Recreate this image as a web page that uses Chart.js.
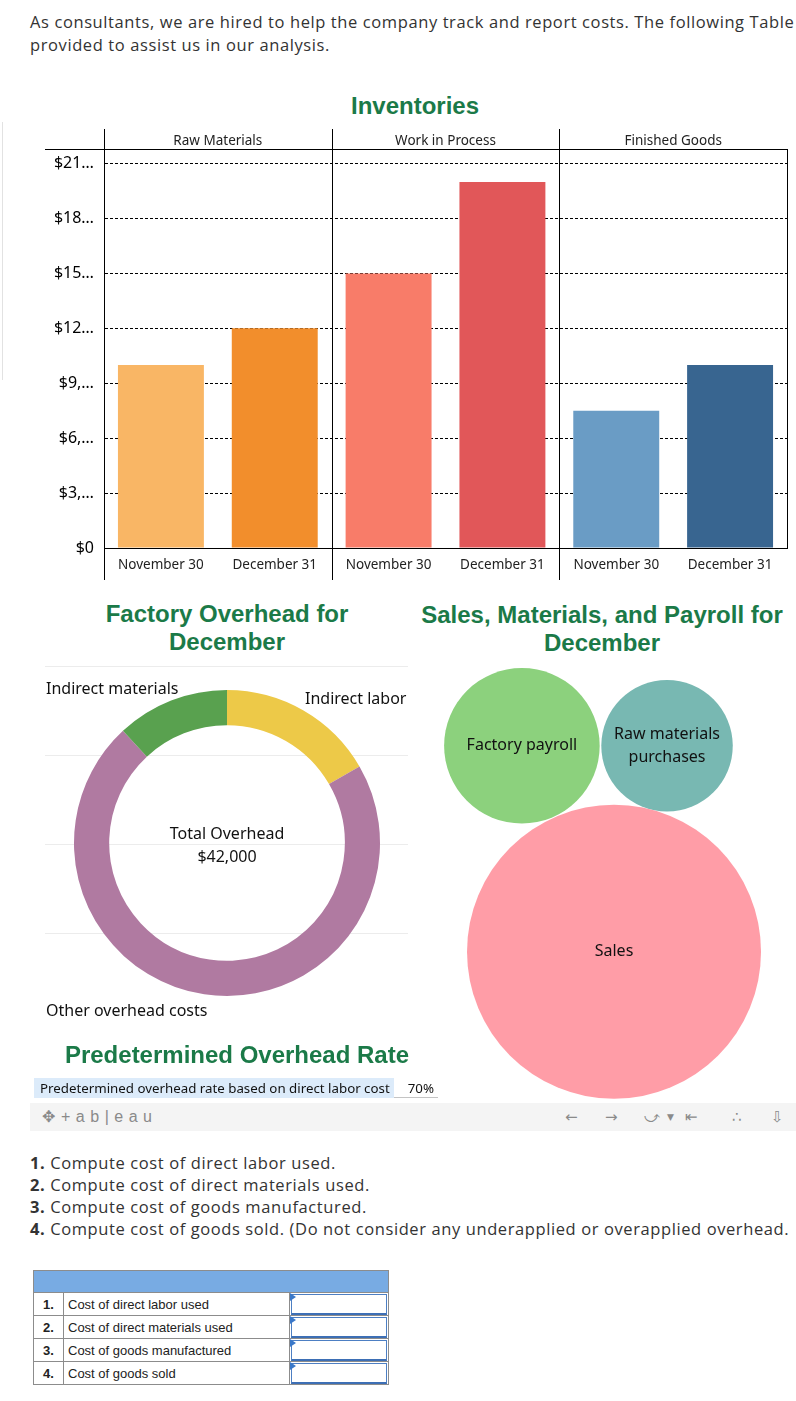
<!DOCTYPE html>
<html>
<head>
<meta charset="utf-8">
<script src="https://cdn.jsdelivr.net/npm/chart.js@4.4.0/dist/chart.umd.min.js"></script>
<style>
  body { margin: 0; width: 796px; height: 1401px; position: relative; overflow: hidden; background: #fff; color: #333; font-family: "Open Sans", sans-serif; }
  .abs { position: absolute; }
  .intro { left: 30px; top: 10px; font-size: 16.5px; line-height: 23px; white-space: nowrap; letter-spacing: 0.6px; }
  .title { font-family: "Liberation Sans", Arial, sans-serif; font-weight: bold; font-size: 24px; line-height: 28px; color: #1b7a48; text-align: center; }
  .tb { font-family: "Noto Sans", sans-serif; color: #111; font-size: 16px; line-height: 20px; white-space: nowrap; }
  .pane-rule { left: 45px; width: 363px; height: 0; border-top: 1px solid #ececec; }
  .rate-row { left: 34px; top: 1078px; width: 360px; height: 20px; background: #dcebfa; font-family: "Noto Sans", sans-serif; font-size: 13.3px; line-height: 20px; color: #111; padding-left: 6px; box-sizing: border-box; white-space: nowrap; }
  .rate-val { left: 394px; top: 1078px; width: 44px; height: 20px; border-bottom: 1px solid #c4c4c4; font-family: "Noto Sans", sans-serif; font-size: 13.3px; line-height: 20px; color: #111; text-align: right; padding-right: 4px; box-sizing: border-box; }
  .toolbar { left: 30px; top: 1103px; width: 766px; height: 28px; background: #f4f4f4; color: #8a8a8a; font-family: "DejaVu Sans", sans-serif; }
  .toolbar span { position: absolute; top: 4px; font-size: 15px; line-height: 20px; }
  .questions { left: 30px; top: 1152px; font-size: 16.5px; line-height: 22px; white-space: nowrap; letter-spacing: 0.6px; }
  table.ans { position: absolute; left: 33px; top: 1270px; border-collapse: collapse; font-family: "Liberation Sans", Arial, sans-serif; font-size: 13px; color: #222; }
  table.ans td { border: 1px solid #8c8c8c; height: 22px; padding: 0; }
  table.ans td.hd { background: #78abe3; height: 21px; }
  table.ans td.n { width: 29px; text-align: center; font-weight: bold; }
  table.ans td.l { width: 221px; padding-left: 4px; }
  table.ans td.in { width: 98px; position: relative; }
  .box { position: absolute; left: 1px; top: 1px; right: 1px; bottom: 0; border: 1px solid #4d7fc3; border-bottom: 2px solid #3d6fb5; }
  .flag { position: absolute; left: 0; top: 0; width: 0; height: 0; border-top: 4px solid transparent; border-bottom: 4px solid transparent; border-left: 6px solid #3a78c9; }
</style>
</head>
<body>

<div class="abs intro">As consultants, we are hired to help the company track and report costs. The following Table<br>provided to assist us in our analysis.</div>

<div class="abs" style="left:0;top:122px;width:2px;height:258px;border-right:1px solid #e2e2e2;"></div>

<div class="abs title" style="left:215px;top:92px;width:400px;">Inventories</div>
<canvas id="inventoryChart" class="abs" style="left:0;top:125px;" width="796" height="460"></canvas>

<div class="abs title" style="left:27px;top:600px;width:400px;">Factory Overhead for<br>December</div>
<div class="abs title" style="left:402px;top:601px;width:400px;">Sales, Materials, and Payroll for<br>December</div>

<div class="abs pane-rule" style="top:666px;"></div>
<div class="abs pane-rule" style="top:755px;"></div>
<div class="abs pane-rule" style="top:844px;"></div>
<div class="abs pane-rule" style="top:933px;"></div>
<canvas id="overheadChart" class="abs" style="left:45px;top:660px;" width="363" height="370"></canvas>
<div class="abs tb" style="left:46px;top:678px;">Indirect materials</div>
<div class="abs tb" style="left:305px;top:688px;">Indirect labor</div>
<div class="abs tb" style="left:46px;top:1000px;">Other overhead costs</div>
<div id="overheadTotal" class="abs tb" style="left:127px;top:822px;width:200px;text-align:center;line-height:23px;"></div>

<canvas id="bubbleChart" class="abs" style="left:420px;top:660px;" width="376" height="440"></canvas>

<div class="abs title" style="left:37px;top:1041px;width:400px;">Predetermined Overhead Rate</div>
<div class="abs rate-row">Predetermined overhead rate based on direct labor cost</div>
<div class="abs rate-val" id="rateVal"></div>

<div class="abs toolbar">
  <span style="left:12px;font-size:16px;">✥</span>
  <span style="left:31px;font-family:'Liberation Sans',sans-serif;font-size:16px;letter-spacing:5.5px;">+ab|eau</span>
  <span style="left:535px;">←</span>
  <span style="left:575px;">→</span>
  <span style="left:614px;">⤻</span>
  <span style="left:637px;font-size:9px;">▼</span>
  <span style="left:655px;">⇤</span>
  <span style="left:702px;">∴</span>
  <span style="left:741px;">⇩</span>
</div>

<div class="abs questions">
  <b>1.</b> Compute cost of direct labor used.<br>
  <b>2.</b> Compute cost of direct materials used.<br>
  <b>3.</b> Compute cost of goods manufactured.<br>
  <b>4.</b> Compute cost of goods sold. (Do not consider any underapplied or overapplied overhead.
</div>

<table class="ans">
  <tr><td colspan="3" class="hd"></td></tr>
  <tr><td class="n">1.</td><td class="l">Cost of direct labor used</td><td class="in"><div class="box"></div><div class="flag"></div></td></tr>
  <tr><td class="n">2.</td><td class="l">Cost of direct materials used</td><td class="in"><div class="box"></div><div class="flag"></div></td></tr>
  <tr><td class="n">3.</td><td class="l">Cost of goods manufactured</td><td class="in"><div class="box"></div><div class="flag"></div></td></tr>
  <tr><td class="n">4.</td><td class="l">Cost of goods sold</td><td class="in"><div class="box"></div><div class="flag"></div></td></tr>
</table>

<script>
// inventories (three panels, two dates each)
var inventoryGroups = ['Raw Materials', 'Work in Process', 'Finished Goods'];
var inventoryDates = ['November 30', 'December 31', 'November 30', 'December 31', 'November 30', 'December 31'];
var inventoryValues = [10000, 12000, 15000, 20000, 7500, 10000];
var inventoryColors = ['#F9B665', '#F28E2C', '#F87C69', '#E15759', '#6A9CC5', '#386590'];
var yTickValues = [0, 3000, 6000, 9000, 12000, 15000, 18000, 21000];
var inventoryMax = 21800;

// factory overhead for December
var overheadLabels = ['Indirect labor', 'Other overhead costs', 'Indirect materials'];
var overheadValues = [7000, 30000, 5000];
var overheadColors = ['#EDC948', '#B07AA1', '#59A14F'];

// sales, materials and payroll (packed bubbles, position in layout units 0-100)
var bubbleLabels = [['Factory payroll'], ['Raw materials', 'purchases'], ['Sales']];
var bubbleValues = [49000, 35000, 175000];
var bubbleX = [27.1, 65.7, 51.6];
var bubbleY = [19.5, 19.5, 66.3];
var bubbleColors = ['#8CD17D', '#78B8B2', '#FF9DA7'];

var overheadRate = 0.70;

function money(v) {
  return '$' + v.toLocaleString('en-US');
}

document.addEventListener('DOMContentLoaded', function() {
  var labelFont = 'Noto Sans';

  // vertical panel separators and the header rule
  var panelLines = {
    id: 'panelLines',
    afterDraw: function(chart) {
      var ctx = chart.ctx;
      var area = chart.chartArea;
      var x = chart.scales.x;
      var head = chart.scales.x2;
      ctx.save();
      ctx.strokeStyle = '#000';
      ctx.lineWidth = 1;
      ctx.beginPath();
      for (var i = 0; i <= inventoryGroups.length; i++) {
        var px = Math.round(x.getPixelForValue(i * 2 - 0.5)) + 0.5;
        var last = i === inventoryGroups.length;
        ctx.moveTo(px, last ? area.top : head.top);
        ctx.lineTo(px, last ? area.bottom : x.bottom - 5);
      }
      var ry = Math.round(area.top) + 0.5;
      ctx.moveTo(area.left - 59, ry);
      ctx.lineTo(area.right, ry);
      ctx.stroke();
      ctx.restore();
    }
  };

  new Chart(document.getElementById('inventoryChart'), {
    type: 'bar',
    data: {
      labels: inventoryDates,
      datasets: [{
        data: inventoryValues,
        backgroundColor: inventoryColors,
        barPercentage: 0.755,
        categoryPercentage: 1
      }]
    },
    options: {
      responsive: false,
      animation: false,
      layout: { padding: { top: 4, right: 9, left: 0, bottom: 0 } },
      plugins: { legend: { display: false }, tooltip: { enabled: false } },
      scales: {
        x: {
          type: 'category',
          grid: { display: false },
          border: { display: true, color: '#000', width: 1 },
          ticks: { color: '#222', font: { family: labelFont, size: 13.5 }, padding: 1, maxRotation: 0, autoSkip: false },
          afterFit: function(s) { s.height = 37; }
        },
        x2: {
          type: 'category',
          labels: inventoryGroups,
          position: 'top',
          offset: true,
          grid: { display: false, drawTicks: false },
          border: { display: false },
          ticks: { color: '#222', font: { family: labelFont, size: 13.5 }, padding: 0 },
          afterFit: function(s) { s.height = 20; }
        },
        y: {
          min: 0,
          max: inventoryMax,
          grid: { color: '#000', lineWidth: 1, drawTicks: false },
          border: { display: true, color: '#000', width: 1, dash: [3, 2] },
          ticks: {
            color: '#000',
            padding: 10,
            font: { family: labelFont, size: 16 },
            callback: function(v) {
              var s = money(v);
              return s.length > 3 ? s.slice(0, 3) + '…' : s;
            }
          },
          afterBuildTicks: function(s) {
            s.ticks = yTickValues.map(function(v) { return { value: v }; });
            s.min = 0;
            s.max = inventoryMax;
          },
          afterFit: function(s) { s.width = 104; }
        }
      }
    },
    plugins: [panelLines]
  });

  var totalOverhead = overheadValues.reduce(function(a, b) { return a + b; }, 0);
  document.getElementById('overheadTotal').innerHTML = 'Total Overhead<br>' + money(totalOverhead);

  new Chart(document.getElementById('overheadChart'), {
    type: 'doughnut',
    data: {
      labels: overheadLabels,
      datasets: [{
        data: overheadValues,
        backgroundColor: overheadColors,
        borderWidth: 0
      }]
    },
    options: {
      responsive: false,
      animation: false,
      cutout: '77%',
      layout: { padding: { left: 29, right: 28, top: 30, bottom: 34 } },
      plugins: { legend: { display: false }, tooltip: { enabled: false } }
    }
  });

  // bubble labels drawn on the circles
  var bubbleText = {
    id: 'bubbleText',
    afterDatasetsDraw: function(chart) {
      var ctx = chart.ctx;
      var meta = chart.getDatasetMeta(0);
      ctx.save();
      ctx.fillStyle = '#111';
      ctx.font = '16px "Noto Sans"';
      ctx.textAlign = 'center';
      ctx.textBaseline = 'middle';
      meta.data.forEach(function(pt, i) {
        var lines = bubbleLabels[i];
        var lh = 23;
        var y0 = pt.y - (lines.length - 1) * lh / 2;
        lines.forEach(function(t, j) { ctx.fillText(t, pt.x, y0 + j * lh); });
      });
      ctx.restore();
    }
  };

  var bubbleScale = 0.3514;
  new Chart(document.getElementById('bubbleChart'), {
    type: 'bubble',
    data: {
      datasets: [{
        data: bubbleValues.map(function(v, i) {
          return { x: bubbleX[i], y: bubbleY[i], r: bubbleScale * Math.sqrt(v) };
        }),
        backgroundColor: bubbleColors,
        borderWidth: 0,
        hoverRadius: 0,
        clip: false
      }]
    },
    options: {
      responsive: false,
      animation: false,
      layout: { padding: 0, autoPadding: false },
      plugins: { legend: { display: false }, tooltip: { enabled: false } },
      scales: {
        x: { display: false, min: 0, max: 100 },
        y: { display: false, min: 0, max: 100, reverse: true }
      }
    },
    plugins: [bubbleText]
  });

  document.getElementById('rateVal').textContent = Math.round(overheadRate * 100) + '%';
});
</script>
</body>
</html>
